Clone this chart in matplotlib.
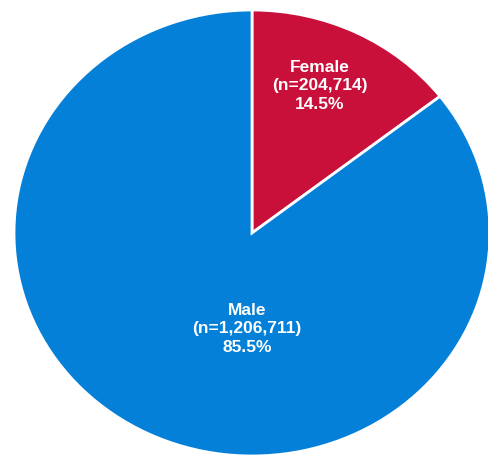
import matplotlib.pyplot as plt

# data
labels = ["Female", "Male"]
counts = [204714, 1206711]
shares = [14.5, 85.5]
colors = ["#C8103A", "#0580D8"]

W, H = 488, 455
fig = plt.figure(figsize=(W / 100, H / 100), dpi=100)
# pie is slightly wider than tall in the original, so no equal aspect
ax = fig.add_axes([14 / W, -1 / H, 476 / W, 446 / H])

ax.pie(shares, colors=colors, startangle=90, counterclock=False,
       wedgeprops=dict(edgecolor="white", linewidth=2))
ax.set_aspect("auto")
ax.set_xlim(-1, 1)
ax.set_ylim(-1, 1)
ax.axis("off")

# label positions (data coords)
pos = [(0.285, 0.66), (-0.02, -0.43)]
for lab, n, s, (x, y) in zip(labels, counts, shares, pos):
    ax.text(x, y, f"{lab}\n(n={n:,})\n{s}%", ha="center", va="center",
            color="white", fontsize=12.5, fontweight="bold",
            family="Liberation Sans", linespacing=1.3)

fig.savefig("out.png", dpi=100)
